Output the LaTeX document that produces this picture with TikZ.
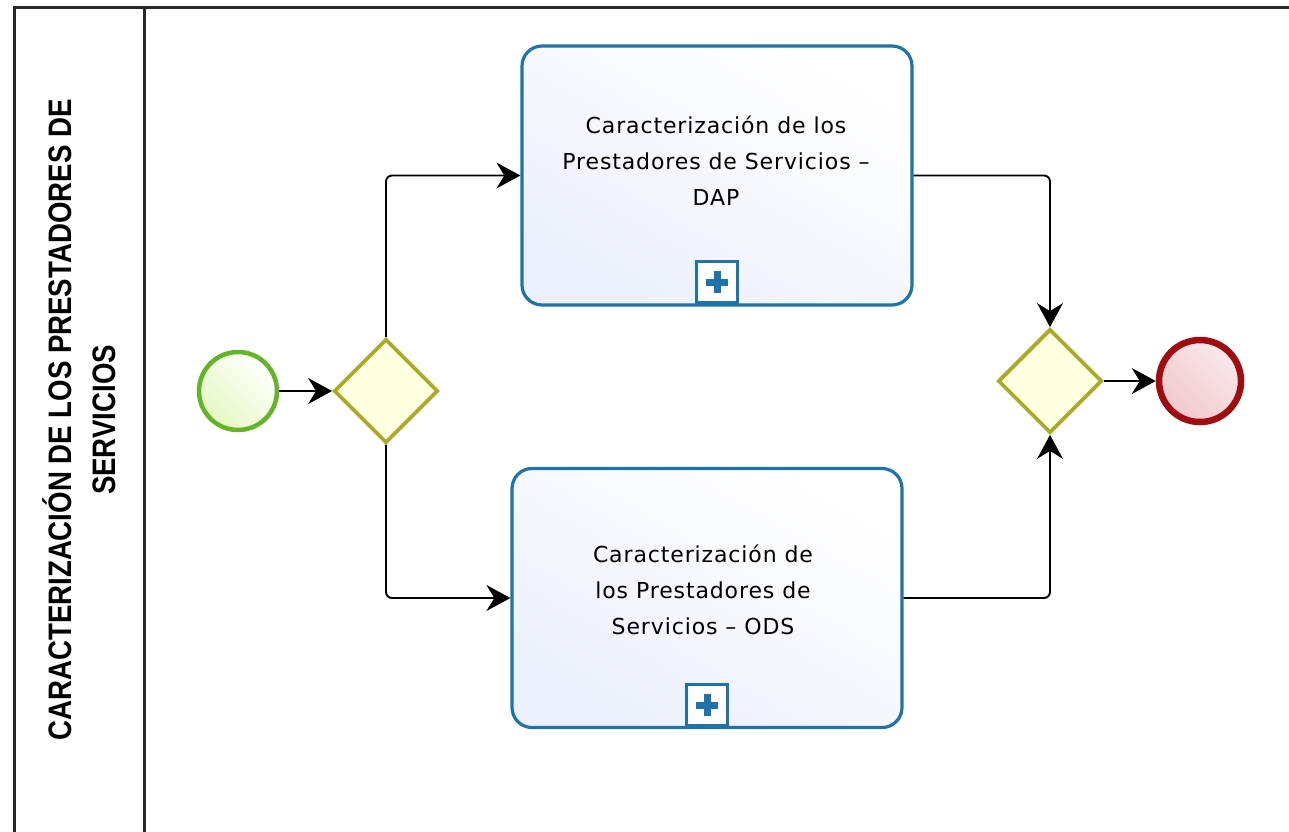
\documentclass[tikz,border=0pt]{standalone}
\usepackage{fontspec}
\setmainfont{DejaVu Sans}
\newfontfamily\taskfont[LetterSpace=4]{DejaVu Sans}
\newfontfamily\lanefont[FakeStretch=0.85]{Liberation Sans}
\usetikzlibrary{shapes.geometric,arrows.meta,calc}
\definecolor{taskblue}{RGB}{30,115,170}
\definecolor{taskfill}{RGB}{236,240,252}
\definecolor{gwline}{RGB}{170,170,40}
\definecolor{gwfill}{RGB}{255,255,225}
\definecolor{startline}{RGB}{100,180,40}
\definecolor{startfill}{RGB}{230,248,195}
\definecolor{endline}{RGB}{160,12,16}
\definecolor{endfill}{RGB}{240,200,205}
\definecolor{framegray}{RGB}{40,40,40}
\tikzset{
  taskbox/.style={draw=taskblue, line width=3.2pt, rounded corners=20pt,
    top color=white, bottom color=taskfill, shading angle=-30,
    minimum width=390pt, minimum height=259pt, inner sep=0pt},
  tasktext/.style={align=center, font=\taskfont\fontsize{22}{36}\selectfont, text=black},
  gateway/.style={diamond, draw=gwline, line width=3.8pt, fill=gwfill,
    minimum width=104pt, minimum height=104pt, inner sep=0pt, aspect=1},
  startev/.style={circle, draw=startline, line width=4.5pt,
    top color=white, bottom color=startfill, shading angle=-45,
    minimum size=78pt, inner sep=0pt},
  endev/.style={circle, draw=endline, line width=6.5pt,
    top color=white!60!endfill, bottom color=endfill, shading angle=-45,
    minimum size=82pt, inner sep=0pt},
  flow/.style={draw=black, line width=1.9pt, rounded corners=6pt,
    -{Stealth[length=24pt,width=26pt,inset=8pt]}},
  marker/.style={draw=taskblue, line width=3.2pt, fill=white,
    minimum size=41pt, inner sep=0pt},
  frameline/.style={draw=framegray, line width=3pt}
}
\newcommand{\plusmark}[1]{%
  \fill[taskblue] ($(#1)+(-11,-3.5)$) rectangle ($(#1)+(11,3.5)$);
  \fill[taskblue] ($(#1)+(-3.5,-11)$) rectangle ($(#1)+(3.5,11)$);}
\begin{document}
\begin{tikzpicture}[x=1pt,y=-1pt]
\useasboundingbox (0,0) rectangle (1289,831);
\clip (0,0) rectangle (1289,831);
% pool / lane frame
\draw[frameline] (1300,7) -- (14,7) -- (14,850);
\draw[frameline] (144,7) -- (144,850);
\node[rotate=90, align=center, font=\lanefont\bfseries\fontsize{32.5}{44}\selectfont]
  (lane) at (79,420) {CARACTERIZACIÓN DE LOS PRESTADORES DE\\SERVICIOS};
% tasks
\node[taskbox] (t1) at (717,175.5) {};
\node[tasktext] (t1txt) at (716,161) {Caracterización de los\\Prestadores de Servicios –\\DAP};
\node[marker] (m1) at (717,282) {};
\plusmark{m1}
\node[taskbox] (t2) at (707,598) {};
\node[tasktext] (t2txt) at (703,590) {Caracterización de\\los Prestadores de\\Servicios – ODS};
\node[marker] (m2) at (707,705) {};
\plusmark{m2}
% events and gateways
\node[startev] (start) at (238,391) {};
\node[gateway] (g1) at (386,391) {};
\node[gateway] (g2) at (1050,381) {};
\node[endev] (end) at (1200,381) {};
% flows
\draw[flow] (start) -- (g1);
\draw[flow] (g1.north) |- (t1.west);
\draw[flow] (g1.south) |- (t2.west);
\draw[flow] (t1.east) -| (g2.north);
\draw[flow] (t2.east) -| (g2.south);
\draw[flow] (g2) -- (end);
\end{tikzpicture}
\end{document}
